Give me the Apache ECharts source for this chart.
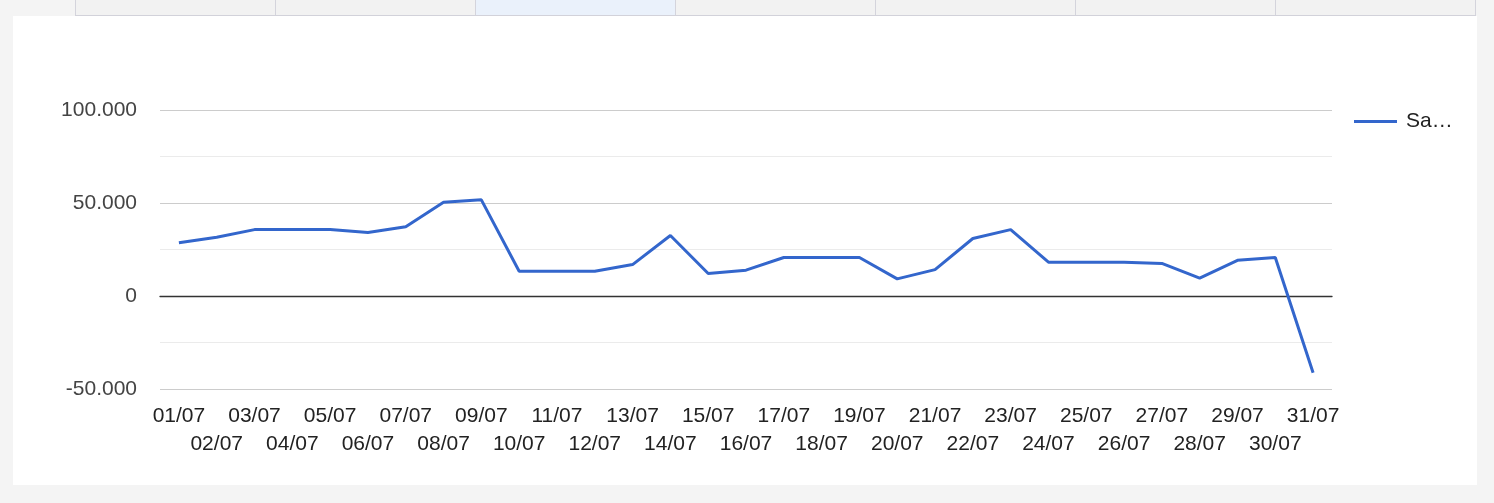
<!DOCTYPE html>
<html>
<head>
<meta charset="utf-8">
<script src="https://cdn.jsdelivr.net/npm/echarts@6/dist/echarts.min.js"></script>
<style>
html,body{margin:0;padding:0;width:1494px;height:503px;background:#f4f4f4;overflow:hidden;font-family:"Liberation Sans",Arial,sans-serif;}
#card{position:absolute;left:13px;top:16px;width:1464px;height:469px;background:#fff;}
#tabs{position:absolute;left:75px;top:0;height:15px;border-bottom:1px solid #d2d2da;display:flex;}
#tabs div{width:199px;height:15px;background:#f2f2f2;border-left:1px solid #d4d4dc;}
#tabs div:last-child{border-right:1px solid #d4d4dc;}
#tabs div.act{background:#eaf1fb;}
#chart{position:absolute;left:0;top:0;width:1494px;height:503px;}
</style>
</head>
<body>
<div id="tabs"><div></div><div></div><div class="act"></div><div></div><div></div><div></div><div></div></div>
<div id="card"></div>
<div id="chart"></div>
<script>
const categories = ["01/07","02/07","03/07","04/07","05/07","06/07","07/07","08/07","09/07","10/07","11/07","12/07","13/07","14/07","15/07","16/07","17/07","18/07","19/07","20/07","21/07","22/07","23/07","24/07","25/07","26/07","27/07","28/07","29/07","30/07","31/07"];
const seriesName = "Saldo";
const values = [28600,31600,35700,35700,35700,34100,37200,50400,51700,13300,13300,13300,16900,32500,12100,13900,20700,20700,20700,9200,14200,30900,35700,18200,18200,18200,17500,9600,19200,20700,-41300];
const yTicks = {min:-50000, max:100000, interval:50000};

function fmt(v){
  const s = Math.abs(v).toString().replace(/\B(?=(\d{3})+(?!\d))/g, ".");
  return (v < 0 ? "-" : "") + s;
}
const FF = 'Liberation Sans';

const chart = echarts.init(document.getElementById('chart'), null, {renderer:'canvas'});
chart.setOption({
  backgroundColor:'transparent',
  animation:false,
  textStyle:{fontFamily:FF},
  grid:{left:160, right:162, top:110, bottom:114, containLabel:false},
  legend:{
    show:true, orient:'vertical', left:1349, top:106,
    icon:'rect', itemWidth:43, itemHeight:3, itemGap:10,
    formatter: n => n.slice(0,2) + '…',
    textStyle:{fontSize:21, fontFamily:FF, color:'#222', padding:[0,0,0,4]},
    data:[seriesName]
  },
  xAxis:[{
    type:'category', data:categories, boundaryGap:true,
    axisLine:{show:false, onZero:false}, axisTick:{show:false},
    axisLabel:{interval:0, margin:13, fontSize:21, fontFamily:FF, color:'#222', lineHeight:28,
      formatter:(v,i)=> i%2 ? '\n'+v : v},
    splitLine:{show:false}
  },{
    type:'category', data:categories, position:'bottom',
    axisLine:{show:true, onZero:true, lineStyle:{color:'#333', width:1.3}},
    axisTick:{show:false}, axisLabel:{show:false}, splitLine:{show:false}
  }],
  yAxis:{
    type:'value', min:yTicks.min, max:yTicks.max, interval:yTicks.interval,
    axisLine:{show:false}, axisTick:{show:false},
    axisLabel:{fontSize:21, fontFamily:FF, color:'#444', margin:23, formatter:fmt,
      verticalAlign:'middle', lineHeight:21, padding:[4,0,0,0]},
    splitLine:{show:true, lineStyle:{color:'#cccccc', width:1.2}},
    minorTick:{show:false, splitNumber:2},
    minorSplitLine:{show:true, lineStyle:{color:'#ebebeb', width:1.2}}
  },
  series:[{
    name:seriesName, type:'line', data:values, xAxisIndex:0,
    symbol:'none', showSymbol:false,
    lineStyle:{color:'#3366cc', width:3},
    itemStyle:{color:'#3366cc'},
    z:5
  }]
});
</script>
</body>
</html>
